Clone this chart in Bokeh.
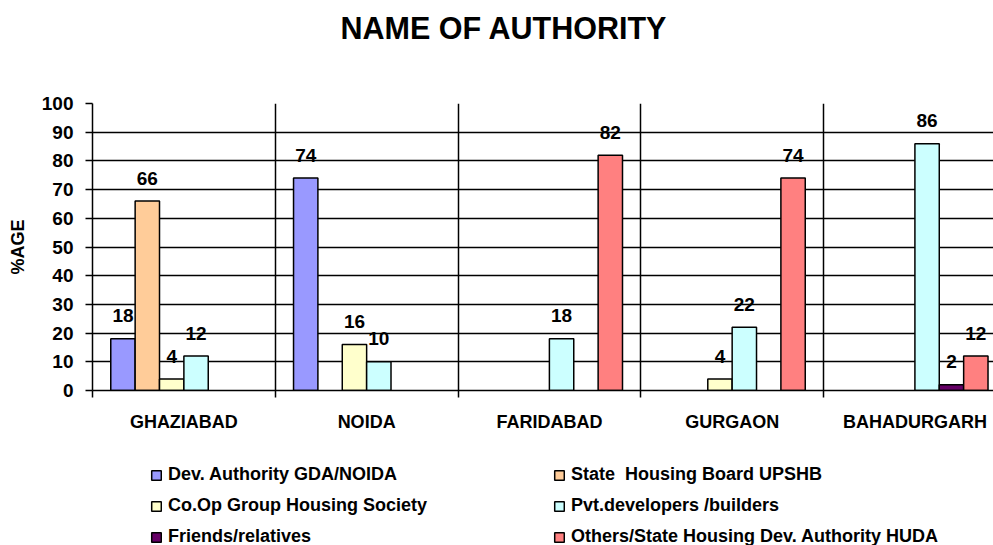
import numpy as np
from bokeh.plotting import figure
from bokeh.layouts import column
from bokeh.models import (ColumnDataSource, Range1d, FixedTicker, Legend,
                          LegendItem, Grid, Title)
from bokeh.core.properties import value
from bokeh.embed import file_html
from bokeh.resources import INLINE

# ---------------- data ----------------
categories = ["GHAZIABAD", "NOIDA", "FARIDABAD", "GURGAON", "BAHADURGARH"]
series_names = [
    "Dev. Authority GDA/NOIDA",
    "State  Housing Board UPSHB",
    "Co.Op Group Housing Society",
    "Pvt.developers /builders",
    "Friends/relatives",
    "Others/State Housing Dev. Authority HUDA",
]
dev_authority = [18, 74, 0, 0, 0]
state_housing_board = [66, 0, 0, 0, 0]
coop_housing = [4, 16, 0, 4, 0]
pvt_developers = [12, 10, 18, 22, 86]
friends_relatives = [0, 0, 0, 0, 2]
others_huda = [0, 0, 82, 74, 12]
series_values = [dev_authority, state_housing_board, coop_housing,
                 pvt_developers, friends_relatives, others_huda]
series_colors = ["#9999FF", "#FFCC99", "#FFFFCC", "#CCFFFF", "#660066", "#FF8080"]
y_ticks = list(range(0, 101, 10))

FONT = "Liberation Sans"

# ---------------- main chart ----------------
p = figure(width=993, height=440, output_backend="svg", toolbar_location=None,
           x_range=Range1d(0, 4.93), y_range=Range1d(0, 100),
           min_border_left=92, min_border_right=0, min_border_top=103,
           min_border_bottom=50)
p.background_fill_color = "white"
p.border_fill_color = "white"
p.outline_line_color = None
p.title.text = ""

# spacer then the real title (stacked upward from the frame)
p.add_layout(Title(text=" ", text_font=FONT, text_font_size="10px", standoff=46), "above")
p.add_layout(Title(text="NAME OF AUTHORITY", align="left", offset=248, standoff=0,
                   text_font=FONT, text_font_size="30.5px", text_font_style="bold",
                   text_color="black"), "above")

# bars
n_series = len(series_values)
slot = n_series + 1.5  # Excel-like gap width of 150%
bar_w = 1.0 / slot
sources = []
idx = np.arange(len(categories))
for i, (vals, color) in enumerate(zip(series_values, series_colors)):
    vals = np.array(vals)
    mask = vals > 0
    x = idx[mask] + 0.5 + (i - (n_series - 1) / 2) / slot
    src = ColumnDataSource(dict(x=x, top=vals[mask],
                                label=[str(v) for v in vals[mask]]))
    p.vbar(x="x", top="top", width=bar_w, source=src, fill_color=color,
           line_color="black", line_width=1.5)
    p.text(x="x", y="top", text="label", source=src, text_align="center",
           text_baseline="alphabetic", y_offset=-23, text_font=value(FONT),
           text_font_size="19px", text_font_style="bold", text_color="black")
    sources.append(src)

# x axis
xa = p.xaxis[0]
xa.ticker = FixedTicker(ticks=[i + 0.5 for i in idx],
                        minor_ticks=list(range(len(categories) + 1)))
xa.major_label_overrides = {float(i + 0.5): c for i, c in enumerate(categories)}
xa.axis_line_color = "black"
xa.axis_line_width = 1.5
xa.major_tick_line_color = None
xa.major_tick_out = 0
xa.major_tick_in = 0
xa.minor_tick_line_color = "black"
xa.minor_tick_line_width = 1.5
xa.minor_tick_out = 7
xa.minor_tick_in = 0
xa.major_label_text_font = FONT
xa.major_label_text_font_size = "18px"
xa.major_label_text_font_style = "bold"
xa.major_label_text_color = "black"
xa.major_label_standoff = 14

# y axis
ya = p.yaxis[0]
ya.ticker = FixedTicker(ticks=y_ticks)
ya.axis_line_color = "black"
ya.axis_line_width = 1.5
ya.major_tick_line_color = "black"
ya.major_tick_line_width = 1.5
ya.major_tick_out = 7
ya.major_tick_in = 0
ya.minor_tick_line_color = None
ya.major_label_text_font = FONT
ya.major_label_text_font_size = "19px"
ya.major_label_text_font_style = "bold"
ya.major_label_text_color = "black"
ya.major_label_standoff = 12
ya.axis_label = "%AGE"
ya.axis_label_text_font = FONT
ya.axis_label_text_font_size = "18px"
ya.axis_label_text_font_style = "bold"
ya.axis_label_text_color = "black"
ya.axis_label_standoff = 11

# grids
p.ygrid.ticker = FixedTicker(ticks=y_ticks[1:-1])
p.ygrid.grid_line_color = "black"
p.ygrid.grid_line_width = 1.5
p.xgrid.ticker = FixedTicker(ticks=list(range(len(categories) + 1)))
p.xgrid.grid_line_color = "black"
p.xgrid.grid_line_width = 1.5
top_grid = Grid(dimension=1, ticker=FixedTicker(ticks=[y_ticks[-1]]),
                grid_line_color="#808080", grid_line_width=2)
p.add_layout(top_grid)

# ---------------- legend strip ----------------
lg = figure(width=993, height=105, output_backend="svg", toolbar_location=None,
            x_range=Range1d(0, 1), y_range=Range1d(0, 1),
            x_axis_location=None, y_axis_location=None,
            min_border_left=0, min_border_right=0, min_border_top=0,
            min_border_bottom=0)
lg.outline_line_color = None
lg.background_fill_color = "white"
lg.border_fill_color = "white"
lg.grid.visible = False
swatches = []
for src, color in zip(sources, series_colors):
    # hidden renderers: they only lend their style to the square legend swatches
    swatches.append(lg.rect(x="x", y="top", width=bar_w, height=bar_w, source=src,
                            fill_color=color, line_color="black",
                            line_width=1.5, visible=False))
legend = Legend(items=[LegendItem(label=n, renderers=[r])
                       for n, r in zip(series_names, swatches)],
                orientation="horizontal", ncols=2, location=(58, -2),
                glyph_width=12, glyph_height=12, label_standoff=6,
                label_width=375, label_height=20, spacing=10, padding=0,
                margin=0, border_line_color=None, background_fill_alpha=0,
                label_text_font=FONT, label_text_font_size="18px",
                label_text_font_style="bold", label_text_color="black")
lg.add_layout(legend, "center")

layout = column(p, lg, spacing=0)
open("out.html", "w").write(file_html(layout, INLINE))
